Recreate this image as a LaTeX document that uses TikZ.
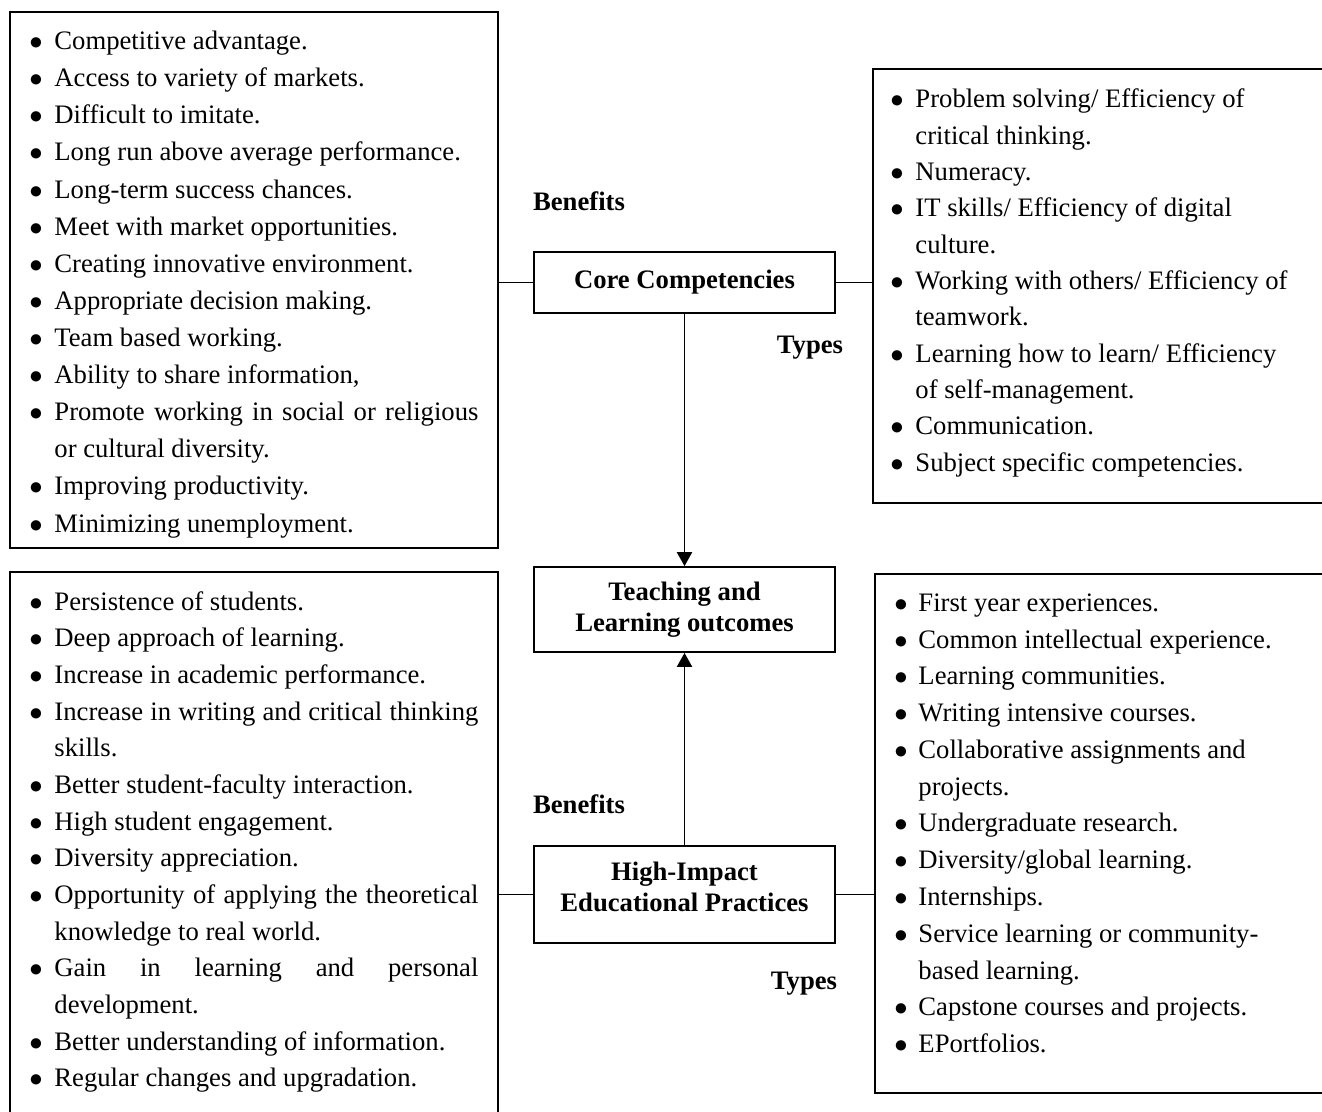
\documentclass[tikz,border=0pt]{standalone}
\usepackage{fontspec}
\setmainfont{Liberation Serif}
\usepackage{enumitem}
\usetikzlibrary{arrows.meta}
\newcommand{\px}{0.45pt}
\newlist{points}{itemize}{1}
\setlist[points]{label=$\bullet$, align=left, labelindent=0pt, labelsep=0pt, labelwidth=!, itemsep=0pt, parsep=0pt, topsep=0pt, partopsep=0pt}

\begin{document}
\begin{tikzpicture}[x=0.45pt, y=-0.45pt,
  panel/.style={draw, line width=0.8pt, anchor=north west, inner sep=0pt},
  points text/.style={anchor=north west, inner sep=0pt, text width=#1*\px, align=justify},
  hub/.style={draw, line width=0.8pt, minimum width=301*\px, align=center, font=\fontsize{12pt}{13.8pt}\selectfont\bfseries},
  tag/.style={font=\fontsize{12pt}{13.8pt}\selectfont\bfseries},
  link/.style={line width=0.8pt},
  flow/.style={line width=0.8pt, -{Triangle[width=6.8pt, length=6.3pt]}}]
\useasboundingbox (0,0) rectangle (1322,1111);
\clip (0,0) rectangle (1322,1111);

\node[hub, minimum height=61*\px] (core) at (684.5,282.5) {Core Competencies};
\node[hub, minimum height=85*\px] (outcomes) at (684.5,609.5) {Teaching and\\Learning outcomes};
\node[hub, minimum height=97*\px] (hip) at (684.5,894.5) {High-Impact\\Educational Practices\\[-11pt]\strut};

\node[panel, minimum width=488*\px, minimum height=536*\px] (ccbenefits) at (9,11) {};
\node[panel, minimum width=470*\px, minimum height=434*\px] (cctypes) at (872,68) {};
\node[panel, minimum width=488*\px, minimum height=560*\px] (hipbenefits) at (9,571) {};
\node[panel, minimum width=470*\px, minimum height=519*\px] (hiptypes) at (874,573) {};

\node[points text=449, font=\fontsize{12pt}{16.7pt}\selectfont] (ccbenefitslist) at (29,12) {%
\begin{points}[leftmargin=11.25pt]
\item Competitive advantage.
\item Access to variety of markets.
\item Difficult to imitate.
\item Long run above average performance.
\item Long-term success chances.
\item Meet with market opportunities.
\item Creating innovative environment.
\item Appropriate decision making.
\item Team based working.
\item Ability to share information,
\item Promote working in social or religious \linebreak or cultural diversity.
\item Improving productivity.
\item Minimizing unemployment.
\end{points}};

\node[points text=425, font=\fontsize{12pt}{16.35pt}\selectfont] (cctypeslist) at (890,71) {%
\begin{points}[leftmargin=11.25pt]
\item Problem solving/ Efficiency of\newline critical thinking.
\item Numeracy.
\item IT skills/ Efficiency of digital\newline culture.
\item Working with others/ Efficiency of\newline teamwork.
\item Learning how to learn/ Efficiency\newline of self-management.
\item Communication.
\item Subject specific competencies.
\end{points}};

\node[points text=449, font=\fontsize{12pt}{16.5pt}\selectfont] (hipbenefitslist) at (29,573) {%
\begin{points}[leftmargin=11.25pt]
\item Persistence of students.
\item Deep approach of learning.
\item Increase in academic performance.
\item Increase in writing and critical thinking \linebreak skills.
\item Better student-faculty interaction.
\item High student engagement.
\item Diversity appreciation.
\item Opportunity of applying the theoretical \linebreak knowledge to real world.
\item Gain in learning and personal \linebreak development.
\item Better understanding of information.
\item Regular changes and upgradation.
\end{points}};

\node[points text=425, font=\fontsize{12pt}{16.55pt}\selectfont] (hiptypeslist) at (894,574) {%
\begin{points}[leftmargin=10.8pt]
\item First year experiences.
\item Common intellectual experience.
\item Learning communities.
\item Writing intensive courses.
\item Collaborative assignments and\newline projects.
\item Undergraduate research.
\item Diversity/global learning.
\item Internships.
\item Service learning or community-\newline based learning.
\item Capstone courses and projects.
\item EPortfolios.
\end{points}};

\node[tag] (ccbenefitstag) at (579,201) {Benefits};
\node[tag] (cctypestag) at (810,348) {Types};
\node[tag] (hipbenefitstag) at (579,804) {Benefits};
\node[tag] (hiptypestag) at (804,984) {Types};

\draw[link] (core.west) -- (core.west -| ccbenefits.east);
\draw[link] (core.east) -- (core.east -| cctypes.west);
\draw[link] (hip.west) -- (hip.west -| hipbenefits.east);
\draw[link] (hip.east) -- (hip.east -| hiptypes.west);
\draw[flow] (core) -- (outcomes);
\draw[flow] (hip) -- (outcomes);
\end{tikzpicture}
\end{document}
